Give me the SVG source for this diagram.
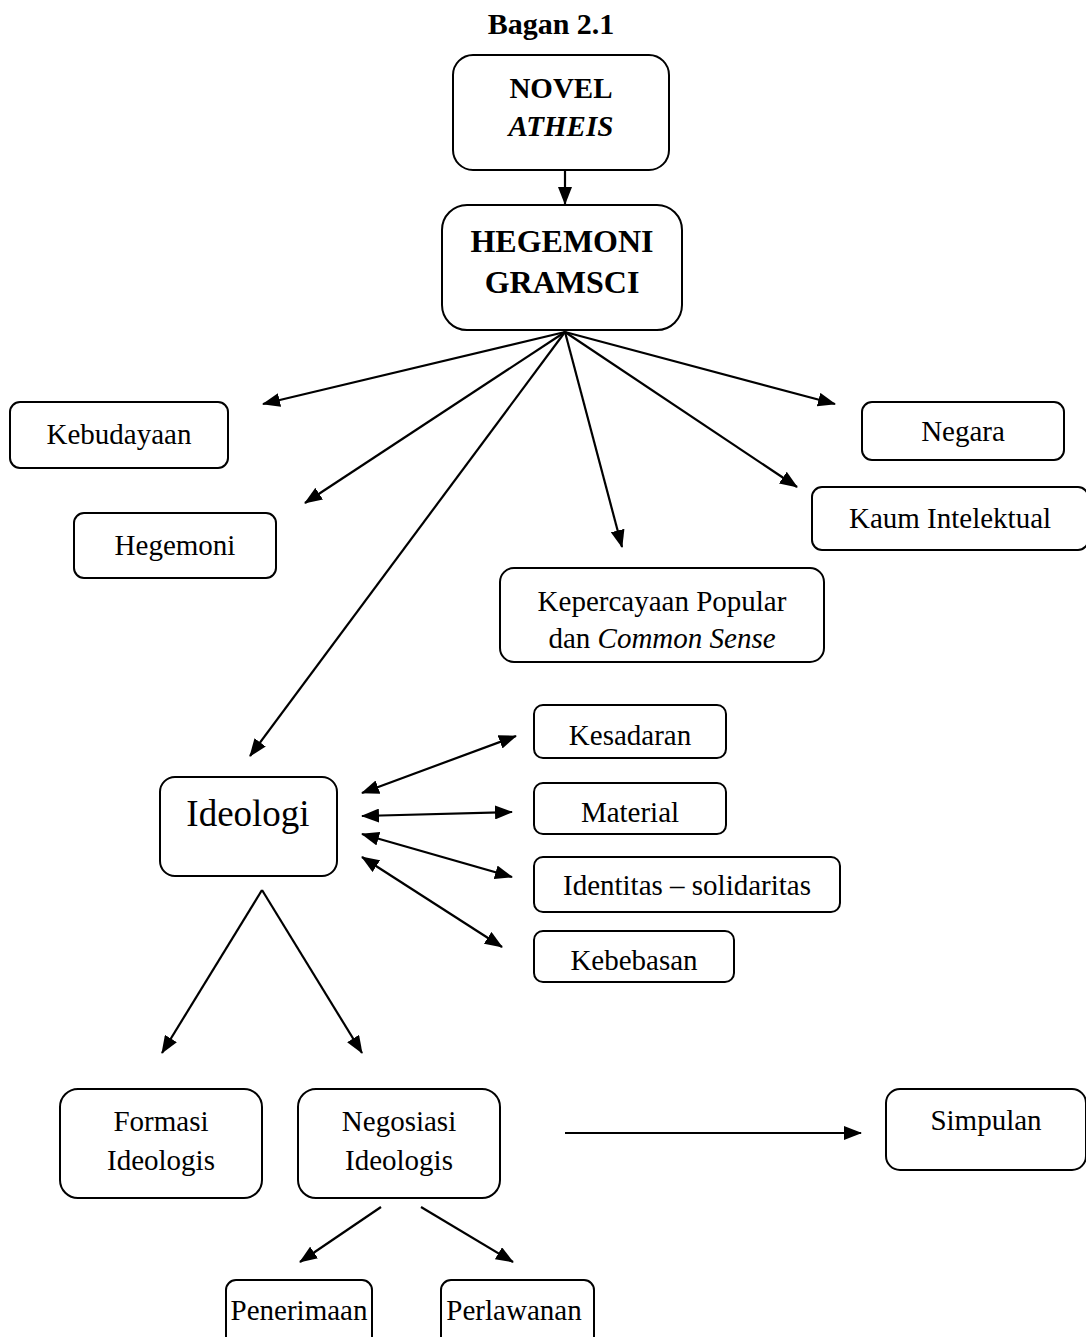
<svg xmlns="http://www.w3.org/2000/svg" width="1086" height="1337" viewBox="0 0 1086 1337">
<style>
.box{fill:#fff;stroke:#000;stroke-width:2}
text{font-family:'Liberation Serif','Times New Roman',Times,serif;font-size:29px;fill:#000;text-anchor:middle}
.b{font-weight:bold}
.i{font-style:italic}
.c{stroke:#000;stroke-width:2.2;fill:none}
</style>
<defs>
<marker id="ah" markerUnits="userSpaceOnUse" markerWidth="18" markerHeight="14" refX="17" refY="7" orient="auto-start-reverse" viewBox="0 0 18 14">
<path d="M0,0 L18,7 L0,14 z" fill="#000"/>
</marker>
</defs>
<rect width="1086" height="1337" fill="#fff"/>
<g font-family="Liberation Serif, Times New Roman, serif">
<text class="b" x="551" y="34" style="font-size:30px">Bagan 2.1</text>

<g id="novel"><rect class="box" x="453" y="55" width="216" height="115" rx="20"/>
<text class="b" x="561" y="98">NOVEL</text>
<text class="b i" x="561" y="136">ATHEIS</text></g>

<g id="hegemoni-gramsci"><rect class="box" x="442" y="205" width="240" height="125" rx="25"/>
<text class="b" x="562" y="252" style="font-size:32px">HEGEMONI</text>
<text class="b" x="562" y="293" style="font-size:32px">GRAMSCI</text></g>

<g id="kebudayaan"><rect class="box" x="10" y="402" width="218" height="66" rx="10"/>
<text x="119" y="444">Kebudayaan</text></g>

<g id="hegemoni"><rect class="box" x="74" y="513" width="202" height="65" rx="10"/>
<text x="175" y="555">Hegemoni</text></g>

<g id="negara"><rect class="box" x="862" y="402" width="202" height="58" rx="10"/>
<text x="963" y="441">Negara</text></g>

<g id="kaum"><rect class="box" x="812" y="487" width="276" height="63" rx="10"/>
<text x="950" y="528">Kaum Intelektual</text></g>

<g id="kepercayaan"><rect class="box" x="500" y="568" width="324" height="94" rx="14"/>
<text x="662" y="611">Kepercayaan Popular</text>
<text x="662" y="648">dan <tspan class="i">Common Sense</tspan></text></g>

<g id="ideologi"><rect class="box" x="160" y="777" width="177" height="99" rx="15"/>
<text x="248" y="826" style="font-size:37px">Ideologi</text></g>

<g id="kesadaran"><rect class="box" x="534" y="705" width="192" height="53" rx="9"/>
<text x="630" y="745">Kesadaran</text></g>

<g id="material"><rect class="box" x="534" y="783" width="192" height="51" rx="9"/>
<text x="630" y="822">Material</text></g>

<g id="identitas"><rect class="box" x="534" y="857" width="306" height="55" rx="9"/>
<text x="687" y="895">Identitas – solidaritas</text></g>

<g id="kebebasan"><rect class="box" x="534" y="931" width="200" height="51" rx="9"/>
<text x="634" y="970">Kebebasan</text></g>

<g id="formasi"><rect class="box" x="60" y="1089" width="202" height="109" rx="18"/>
<text x="161" y="1131">Formasi</text>
<text x="161" y="1170">Ideologis</text></g>

<g id="negosiasi"><rect class="box" x="298" y="1089" width="202" height="109" rx="18"/>
<text x="399" y="1131">Negosiasi</text>
<text x="399" y="1170">Ideologis</text></g>

<g id="simpulan"><rect class="box" x="886" y="1089" width="200" height="81" rx="14"/>
<text x="986" y="1130">Simpulan</text></g>

<g id="penerimaan"><rect class="box" x="226" y="1280" width="146" height="70" rx="10"/>
<text x="299" y="1320">Penerimaan</text></g>

<g id="perlawanan"><rect class="box" x="441" y="1280" width="153" height="70" rx="10"/>
<text x="514" y="1320">Perlawanan</text></g>
</g>

<g id="connectors">
<line class="c" x1="565" y1="170" x2="565" y2="204" marker-end="url(#ah)"/>
<line class="c" x1="565" y1="332" x2="263" y2="404" marker-end="url(#ah)"/>
<line class="c" x1="565" y1="332" x2="305" y2="503" marker-end="url(#ah)"/>
<line class="c" x1="565" y1="332" x2="250" y2="756" marker-end="url(#ah)"/>
<line class="c" x1="565" y1="332" x2="622" y2="547" marker-end="url(#ah)"/>
<line class="c" x1="565" y1="332" x2="797" y2="487" marker-end="url(#ah)"/>
<line class="c" x1="565" y1="332" x2="835" y2="404" marker-end="url(#ah)"/>
<line class="c" x1="362" y1="793" x2="516" y2="736" marker-start="url(#ah)" marker-end="url(#ah)"/>
<line class="c" x1="362" y1="816" x2="512" y2="812" marker-start="url(#ah)" marker-end="url(#ah)"/>
<line class="c" x1="362" y1="834" x2="512" y2="877" marker-start="url(#ah)" marker-end="url(#ah)"/>
<line class="c" x1="362" y1="857" x2="502" y2="947" marker-start="url(#ah)" marker-end="url(#ah)"/>
<line class="c" x1="262" y1="890" x2="162" y2="1053" marker-end="url(#ah)"/>
<line class="c" x1="262" y1="890" x2="362" y2="1053" marker-end="url(#ah)"/>
<line class="c" x1="565" y1="1133" x2="861" y2="1133" marker-end="url(#ah)"/>
<line class="c" x1="381" y1="1207" x2="300" y2="1262" marker-end="url(#ah)"/>
<line class="c" x1="421" y1="1207" x2="513" y2="1262" marker-end="url(#ah)"/>
</g>
</svg>
